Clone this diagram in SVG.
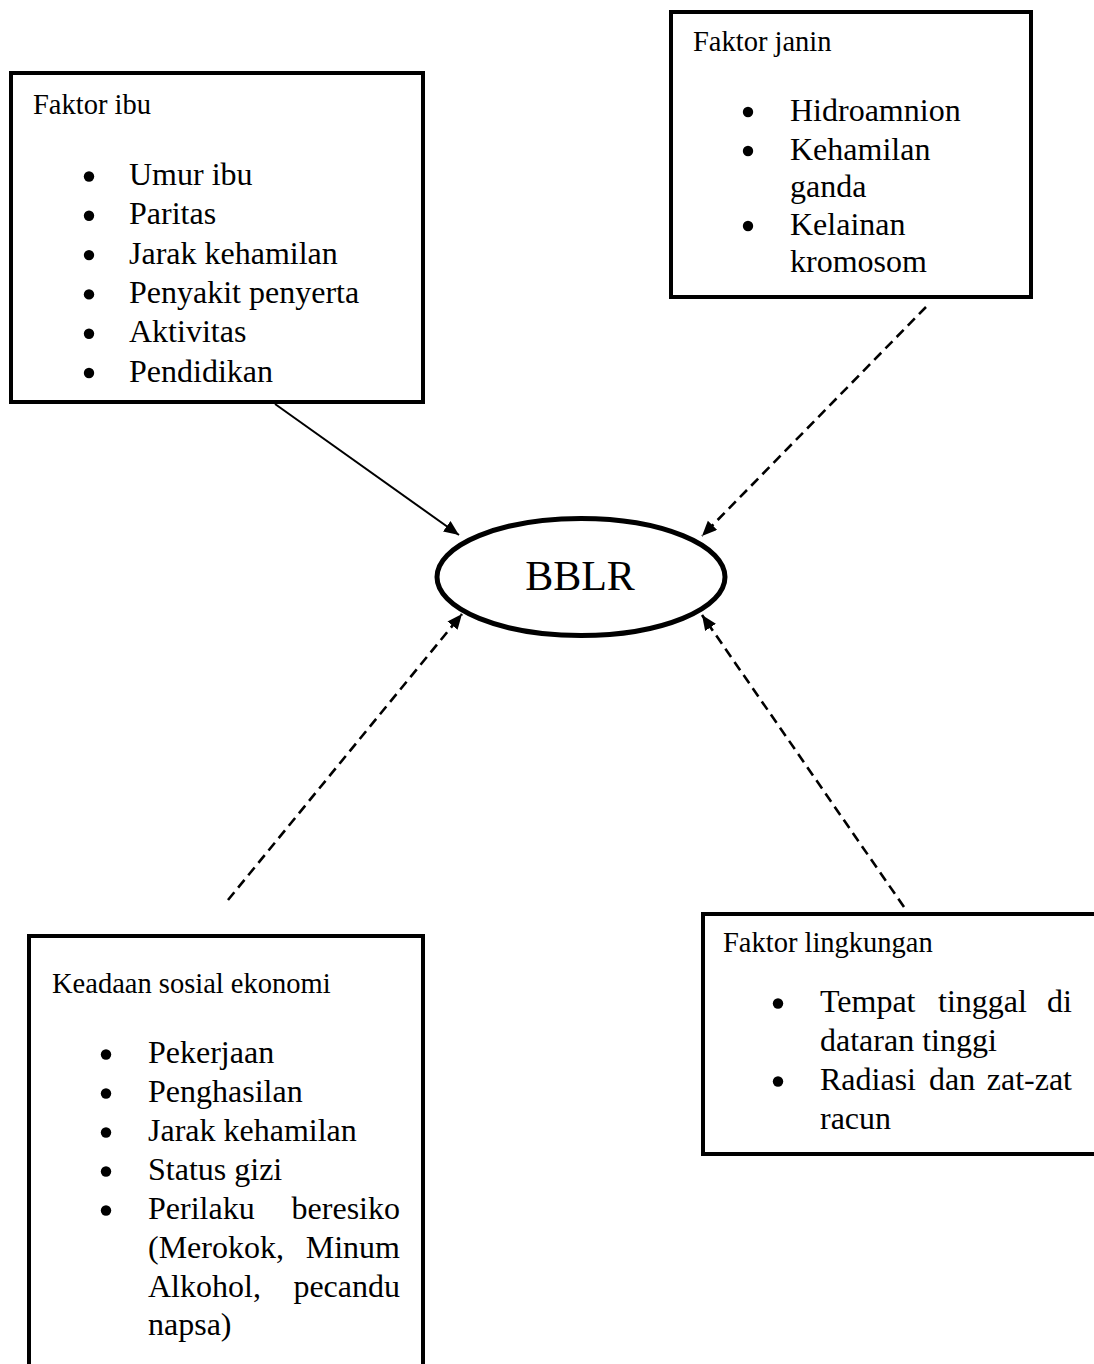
<svg xmlns="http://www.w3.org/2000/svg" width="1094" height="1364" viewBox="0 0 1094 1364">
<style>
.box{fill:#fff;stroke:#000;stroke-width:4}
.t{font-family:"Liberation Serif","Times New Roman",serif;fill:#000}
.title{font-size:28.5px}
.item{font-size:32px}
.end{text-anchor:end}
.conn{fill:none;stroke:#000;stroke-width:2}
.dash{stroke-width:2.6;stroke-dasharray:10 6}
</style>
<defs>
<marker id="ah" markerUnits="userSpaceOnUse" markerWidth="16" markerHeight="14" refX="15" refY="6.5" orient="auto">
<path d="M0,0 L15,6.5 L0,13 z" fill="#000"/>
</marker>
<circle id="b" r="5.2" fill="#000"/>
</defs>
<rect width="1094" height="1364" fill="#fff"/>

<g id="faktor-ibu">
<rect class="box" x="11" y="73" width="412" height="329"/>
<text class="t title" x="33" y="114">Faktor ibu</text>
<use href="#b" x="89" y="176.5"/><text class="t item" x="129" y="185">Umur ibu</text>
<use href="#b" x="89" y="215.8"/><text class="t item" x="129" y="224.3">Paritas</text>
<use href="#b" x="89" y="255.1"/><text class="t item" x="129" y="263.6">Jarak kehamilan</text>
<use href="#b" x="89" y="294.4"/><text class="t item" x="129" y="302.9">Penyakit penyerta</text>
<use href="#b" x="89" y="333.7"/><text class="t item" x="129" y="342.2">Aktivitas</text>
<use href="#b" x="89" y="373"/><text class="t item" x="129" y="381.5">Pendidikan</text>
</g>

<g id="faktor-janin">
<rect class="box" x="671" y="12" width="360" height="285"/>
<text class="t title" x="693" y="51">Faktor janin</text>
<use href="#b" x="748" y="112"/><text class="t item" x="790" y="120.7">Hidroamnion</text>
<use href="#b" x="748" y="151"/><text class="t item" x="790" y="159.5">Kehamilan</text>
<text class="t item" x="790" y="197">ganda</text>
<use href="#b" x="748" y="226"/><text class="t item" x="790" y="234.5">Kelainan</text>
<text class="t item" x="790" y="272">kromosom</text>
</g>

<g id="bblr">
<ellipse cx="581" cy="577" rx="144" ry="58.5" fill="#fff" stroke="#000" stroke-width="5"/>
<text class="t" x="580" y="590" font-size="42" text-anchor="middle">BBLR</text>
</g>

<g id="keadaan-sosial-ekonomi">
<rect class="box" x="29" y="936" width="394" height="500"/>
<text class="t title" x="52" y="993">Keadaan sosial ekonomi</text>
<use href="#b" x="106" y="1054.5"/><text class="t item" x="148" y="1063">Pekerjaan</text>
<use href="#b" x="106" y="1093.5"/><text class="t item" x="148" y="1102">Penghasilan</text>
<use href="#b" x="106" y="1132.5"/><text class="t item" x="148" y="1141">Jarak kehamilan</text>
<use href="#b" x="106" y="1171.5"/><text class="t item" x="148" y="1180">Status gizi</text>
<use href="#b" x="106" y="1210.5"/><text class="t item" x="148" y="1219">Perilaku</text><text class="t item end" x="400" y="1219">beresiko</text>
<text class="t item" x="148" y="1258">(Merokok,</text><text class="t item end" x="400" y="1258">Minum</text>
<text class="t item" x="148" y="1297">Alkohol,</text><text class="t item end" x="400" y="1297">pecandu</text>
<text class="t item" x="148" y="1335">napsa)</text>
</g>

<g id="faktor-lingkungan">
<rect class="box" x="703" y="914" width="400" height="240"/>
<text class="t title" x="723" y="952">Faktor lingkungan</text>
<use href="#b" x="778" y="1003.5"/><text class="t item" x="820" y="1012">Tempat</text><text class="t item" x="938" y="1012">tinggal</text><text class="t item end" x="1072" y="1012">di</text>
<text class="t item" x="820" y="1051">dataran tinggi</text>
<use href="#b" x="778" y="1081.5"/><text class="t item" x="820" y="1090">Radiasi</text><text class="t item" x="929" y="1090">dan</text><text class="t item end" x="1072" y="1090">zat-zat</text>
<text class="t item" x="820" y="1129">racun</text>
</g>

<g id="connectors">
<line class="conn" x1="275" y1="404" x2="459" y2="535" marker-end="url(#ah)"/>
<line class="conn dash" x1="926" y1="307" x2="702" y2="536" marker-end="url(#ah)"/>
<line class="conn dash" x1="228" y1="900" x2="462" y2="614" marker-end="url(#ah)"/>
<line class="conn dash" x1="904" y1="907" x2="702" y2="615" marker-end="url(#ah)"/>
</g>
</svg>
